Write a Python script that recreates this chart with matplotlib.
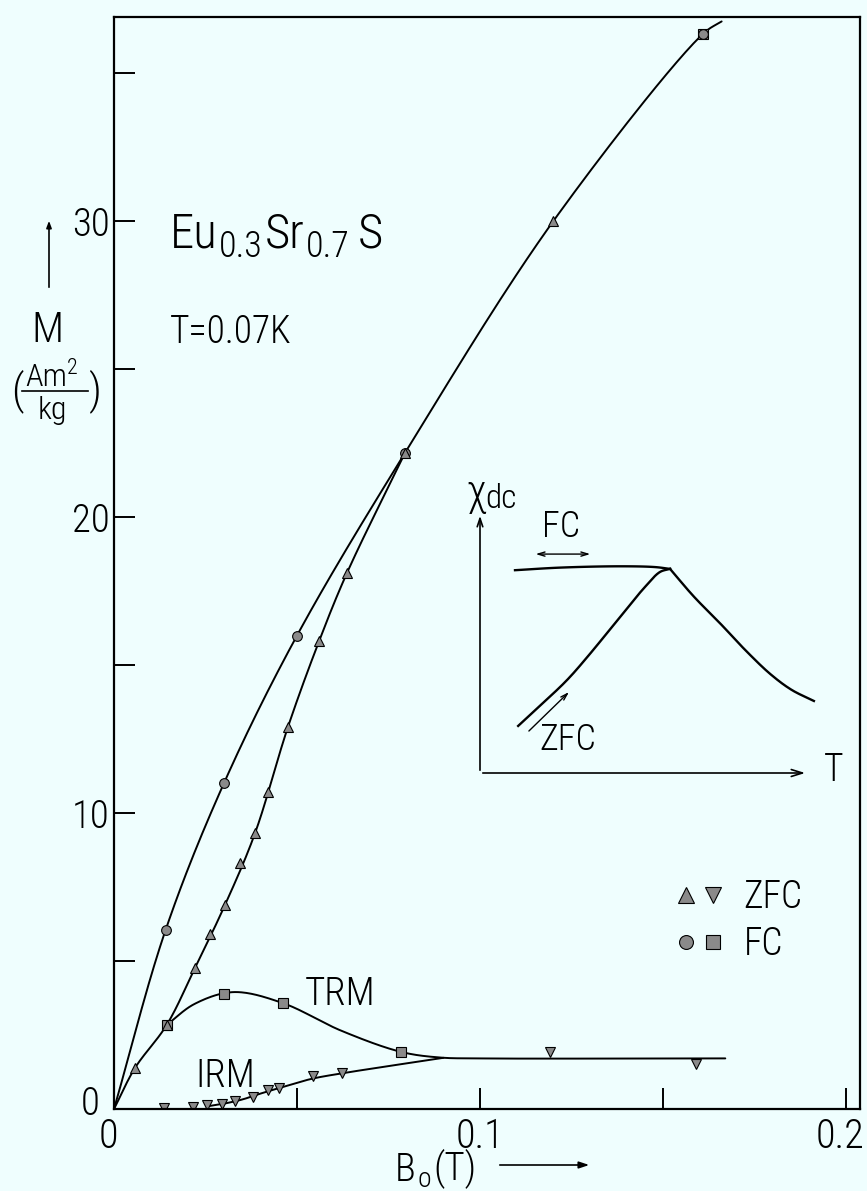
import numpy as np
import matplotlib
matplotlib.use("Agg")
import matplotlib.pyplot as plt
from matplotlib import font_manager as fm
from matplotlib.font_manager import FontProperties
from matplotlib.lines import Line2D
from matplotlib.legend_handler import HandlerTuple
from matplotlib.patches import FancyArrowPatch
from matplotlib.transforms import ScaledTranslation

# ---- measured magnetisation, Eu0.3Sr0.7S at T = 0.07 K ----
# field-cooled magnetisation (circles)
fc_B = [0.0141, 0.030, 0.050, 0.0795, 0.161]
fc_M = [6.05, 11.0, 16.0, 22.17, 36.34]
# zero-field-cooled magnetisation (up triangles)
zfc_B = [0.0057, 0.0144, 0.0221, 0.0262, 0.0303, 0.0344, 0.0385, 0.042,
         0.0475, 0.0560, 0.0636, 0.0795, 0.120]
zfc_M = [1.38, 2.84, 4.76, 5.91, 6.89, 8.32, 9.31, 10.7,
         12.9, 15.8, 18.1, 22.17, 30.0]
# thermoremanent magnetisation (squares)
trm_B = [0.0144, 0.0301, 0.0461, 0.0784, 0.161]
trm_M = [2.84, 3.89, 3.58, 1.93, 36.34]
# isothermal remanent magnetisation (down triangles)
irm_B = [0.0137, 0.0217, 0.0255, 0.0296, 0.033, 0.038, 0.042, 0.0452,
         0.0545, 0.0622, 0.119, 0.159]
irm_M = [0.05, 0.07, 0.13, 0.17, 0.28, 0.42, 0.64, 0.72,
         1.10, 1.20, 1.91, 1.52]

# hand-drawn guide curves through the data
fc_line_B = [0.0, 0.0141, 0.030, 0.050, 0.0795, 0.120, 0.161, 0.166]
fc_line_M = [0.0, 6.05, 11.0, 16.0, 22.17, 30.0, 36.34, 36.75]
zfc_line_B = [0.0, 0.0057, 0.0144, 0.0221, 0.0303, 0.0385, 0.0475,
              0.0560, 0.0636, 0.0795]
zfc_line_M = [0.0, 1.38, 2.84, 4.76, 6.89, 9.31, 12.9, 15.8, 18.1, 22.17]
trm_line_B = [0.0144, 0.0220, 0.0326, 0.0461, 0.0620, 0.0784, 0.089, 0.100, 0.167]
trm_line_M = [2.84, 3.55, 3.95, 3.58, 2.65, 1.93, 1.74, 1.71, 1.71]
irm_line_B = [0.026, 0.030, 0.035, 0.040, 0.046, 0.054, 0.062, 0.075, 0.090]
irm_line_M = [0.10, 0.18, 0.32, 0.52, 0.74, 1.02, 1.20, 1.45, 1.73]

# ---- schematic chi_dc(T) in the inset (arbitrary units) ----
ins_fc_T = [1.0, 2.3, 4.0, 5.0, 5.43]
ins_fc_X = [7.80, 7.90, 7.95, 7.92, 7.85]
ins_zfc_T = [1.09, 1.71, 2.49, 3.14, 4.0, 4.71, 5.14, 5.43]
ins_zfc_X = [1.81, 2.58, 3.58, 4.58, 6.0, 7.15, 7.73, 7.85]
ins_dec_T = [5.43, 6.1, 6.9, 7.6, 8.3, 8.9, 9.54]
ins_dec_X = [7.85, 6.8, 5.7, 4.7, 3.8, 3.2, 2.77]

BG = '#effefe'
W, H = 867, 1191


def pick_narrow_font():
    """Return the path of a light, narrow sans-serif face if one is installed."""
    prefs = ['Roboto Condensed', 'Noto Sans Condensed', 'Noto Sans',
             'Open Sans Condensed', 'Open Sans', 'DejaVu Sans Condensed',
             'DejaVu Sans', 'Liberation Sans Narrow', 'Roboto']
    best = None
    for f in fm.fontManager.ttflist:
        if f.style != 'normal':
            continue
        nm = f.name
        stretch = str(f.stretch)
        narrow = ('Condensed' in nm or 'Narrow' in nm
                  or stretch in ('condensed', 'semi-condensed'))
        if not narrow and nm != 'Roboto':
            continue
        if stretch in ('extra-condensed', 'ultra-condensed') or 'Extra' in nm:
            continue
        w = f.weight if isinstance(f.weight, int) else fm.weight_dict.get(f.weight, 400)
        rank = prefs.index(nm) if nm in prefs else 50
        score = (0 if narrow else 1, rank, stretch != 'condensed', abs(w - 300))
        if best is None or score < best[0]:
            best = (score, f.fname)
    return best[1] if best else None


FONT_PATH = pick_narrow_font()


def fp(size):
    if FONT_PATH:
        return FontProperties(fname=FONT_PATH, size=size)
    return FontProperties(family='DejaVu Sans', size=size)


def fpos(x, y):
    return x / W, 1 - y / H


def smooth(xs, ys, sx, sy, n=30):
    """Centripetal Catmull-Rom curve through the given nodes."""
    P = np.column_stack([np.asarray(xs, float) / sx, np.asarray(ys, float) / sy])
    pts = np.vstack([2 * P[0] - P[1], P, 2 * P[-1] - P[-2]])
    out = []
    for i in range(1, len(pts) - 2):
        p0, p1, p2, p3 = pts[i - 1:i + 3]
        t0 = 0.0
        t1 = t0 + np.linalg.norm(p1 - p0) ** 0.5
        t2 = t1 + np.linalg.norm(p2 - p1) ** 0.5
        t3 = t2 + np.linalg.norm(p3 - p2) ** 0.5
        t = np.linspace(t1, t2, n)[:, None]
        A1 = (t1 - t) / (t1 - t0) * p0 + (t - t0) / (t1 - t0) * p1
        A2 = (t2 - t) / (t2 - t1) * p1 + (t - t1) / (t2 - t1) * p2
        A3 = (t3 - t) / (t3 - t2) * p2 + (t - t2) / (t3 - t2) * p3
        B1 = (t2 - t) / (t2 - t0) * A1 + (t - t0) / (t2 - t0) * A2
        B2 = (t3 - t) / (t3 - t1) * A2 + (t - t1) / (t3 - t1) * A3
        C = (t2 - t) / (t2 - t1) * B1 + (t - t1) / (t2 - t1) * B2
        out.append(C if i == 1 else C[1:])
    C = np.vstack(out)
    return C[:, 0] * sx, C[:, 1] * sy


fig = plt.figure(figsize=(W / 100, H / 100), dpi=100, facecolor=BG)
L, R, T, B = 114, 860, 17, 1109
ax = fig.add_axes([L / W, 1 - B / H, (R - L) / W, (B - T) / H])
ax.set_facecolor(BG)
XMAX, YMAX = 0.2038, 36.9
ax.set_xlim(0, XMAX)
ax.set_ylim(0, YMAX)
sx, sy = XMAX / (R - L), YMAX / (B - T)


def chain(x, y, parts):
    """Write consecutive text pieces left to right from a baseline point.
    parts: (text, size, raise_in_points, gap_in_points)."""
    s0, size0, _, _ = parts[0]
    prev = fig.text(*fpos(x, y), s0, fontproperties=fp(size0),
                    va='baseline', ha='left')
    for s, size, rise, gap in parts[1:]:
        prev = ax.annotate(s, xy=(1, 0), xycoords=prev,
                           xytext=(gap, rise), textcoords='offset points',
                           va='bottom', ha='left', annotation_clip=False,
                           fontproperties=fp(size))


def nudge(label, dx_px, dy_px):
    label.set_transform(label.get_transform()
                        + ScaledTranslation(dx_px / 100, dy_px / 100,
                                            fig.dpi_scale_trans))


lw = 1.4
for xb, ym in [(fc_line_B, fc_line_M), (zfc_line_B, zfc_line_M),
               (trm_line_B, trm_line_M), (irm_line_B, irm_line_M)]:
    cx, cy = smooth(xb, ym, sx, sy)
    ax.plot(cx, cy, color='black', lw=lw, solid_capstyle='round')

mk = dict(linestyle='none', markerfacecolor='#8a8a8a', markeredgecolor='black',
          markeredgewidth=0.8, markersize=7)
ax.plot(trm_B, trm_M, marker='s', **mk)
ax.plot(fc_B, fc_M, marker='o', **mk)
ax.plot(zfc_B, zfc_M, marker='^', **mk)
ax.plot(irm_B, irm_M, marker='v', **mk)

for s in ax.spines.values():
    s.set_linewidth(1.6)
ax.set_xticks([0, 0.05, 0.1, 0.15, 0.2])
ax.set_xticklabels(['0', '', '0.1', '', '0.2'], fontproperties=fp(29))
ax.set_yticks([0, 5, 10, 15, 20, 25, 30, 35])
ax.set_yticklabels(['0', '', '10', '', '20', '', '30', ''], fontproperties=fp(28))
ax.tick_params(axis='both', direction='in', length=15, width=1.4)
ax.tick_params(axis='x', pad=6)
ax.tick_params(axis='y', pad=3)
xl = ax.get_xticklabels()
nudge(xl[0], -6, 0)
nudge(xl[4], -6, 0)
yl = ax.get_yticklabels()
nudge(yl[0], -10, 9)

# legend of symbols
h_zfc = (Line2D([], [], marker='^', **{**mk, 'markersize': 11}),
         Line2D([], [], marker='v', **{**mk, 'markersize': 11}))
h_fc = (Line2D([], [], marker='o', **{**mk, 'markersize': 10}),
        Line2D([], [], marker='s', **{**mk, 'markersize': 10}))
ax.legend([h_zfc, h_fc], ['ZFC', 'FC'],
          handler_map={tuple: HandlerTuple(ndivide=None, pad=0.3)},
          loc='center left', bbox_to_anchor=fpos(678, 921),
          bbox_transform=fig.transFigure, frameon=False, prop=fp(27),
          borderpad=0.0, borderaxespad=0.0,
          handlelength=1.15, handletextpad=0.6, labelspacing=0.25)

# curve labels and annotations
fig.text(*fpos(305, 1005), 'TRM', fontproperties=fp(28), va='baseline', ha='left')
fig.text(*fpos(195, 1087), 'IRM', fontproperties=fp(28), va='baseline', ha='left')
chain(170, 248, [('Eu', 35, 0, 0), ('0.3', 26, -5, 1),
                 ('Sr', 35, 5, 1), ('0.7', 26, -5, 1), ('S', 35, 5, 6)])
fig.text(*fpos(170, 343), 'T=0.07K', fontproperties=fp(27), va='baseline', ha='left')

# y-axis quantity: M (Am^2/kg) with an upward arrow
fig.text(*fpos(47, 330), 'M', fontproperties=fp(31), ha='center', va='center')
fig.text(*fpos(17, 391), '(', fontproperties=fp(31), ha='center', va='center')
fig.text(*fpos(95, 391), ')', fontproperties=fp(31), ha='center', va='center')
chain(25, 386, [('Am', 23, 0, 0), ('2', 16, 9, 0)])
fig.text(*fpos(52, 396), 'kg', fontproperties=fp(23), ha='center', va='top')
fig.add_artist(Line2D([22 / W, 88 / W], [1 - 391 / H, 1 - 391 / H],
                      transform=fig.transFigure, color='black', lw=1.2))
fig.add_artist(FancyArrowPatch(
    fpos(49, 290), fpos(49, 218), transform=fig.transFigure,
    arrowstyle='-|>,head_length=4,head_width=1.5', lw=1.2, color='black'))

# x-axis quantity: B_o (T) with a rightward arrow
chain(395, 1181, [('B', 28, 0, 0), ('o', 20, -3, 1), ('(T)', 28, 3, 2)])
fig.add_artist(FancyArrowPatch(
    fpos(497, 1165), fpos(592, 1165), transform=fig.transFigure,
    arrowstyle='-|>,head_length=6,head_width=2', lw=1.2, color='black'))

# ---- inset: chi_dc versus T ----
iL, iR, iT, iB = 480, 830, 513, 773
axi = fig.add_axes([iL / W, 1 - iB / H, (iR - iL) / W, (iB - iT) / H])
axi.set_xlim(0, 10)
axi.set_ylim(0, 10)
axi.axis('off')
isx, isy = 10 / (iR - iL), 10 / (iB - iT)
for xt, yx in [(ins_fc_T, ins_fc_X), (ins_zfc_T, ins_zfc_X), (ins_dec_T, ins_dec_X)]:
    cx, cy = smooth(xt, yx, isx, isy)
    axi.plot(cx, cy, color='black', lw=1.7, clip_on=False)
axi.annotate('', xy=(0, 10), xytext=(0, 0),
             arrowprops=dict(arrowstyle='->,head_length=0.6,head_width=0.2', lw=1.2))
axi.annotate('', xy=(9.37, 0), xytext=(0, 0),
             arrowprops=dict(arrowstyle='->,head_length=0.8,head_width=0.25', lw=1.2))
axi.annotate('', xy=(3.23, 8.42), xytext=(1.51, 8.42),
             arrowprops=dict(arrowstyle='<->,head_length=0.5,head_width=0.15', lw=1.0))
axi.annotate('', xy=(2.6, 3.19), xytext=(1.34, 1.54),
             arrowprops=dict(arrowstyle='->,head_length=0.5,head_width=0.15', lw=1.0))
chain(466, 505, [('\u03c7', 30, 0, 0), ('dc', 24, -1, 0)])
axi.text(2.31, 9.46, 'FC', fontproperties=fp(26), ha='center', va='center',
         clip_on=False)
axi.text(2.51, 1.27, 'ZFC', fontproperties=fp(26), ha='center', va='center',
         clip_on=False)
axi.text(10.09, 0.12, 'T', fontproperties=fp(27), ha='center', va='center',
         clip_on=False)

fig.savefig('out.png', dpi=100, facecolor=BG)
